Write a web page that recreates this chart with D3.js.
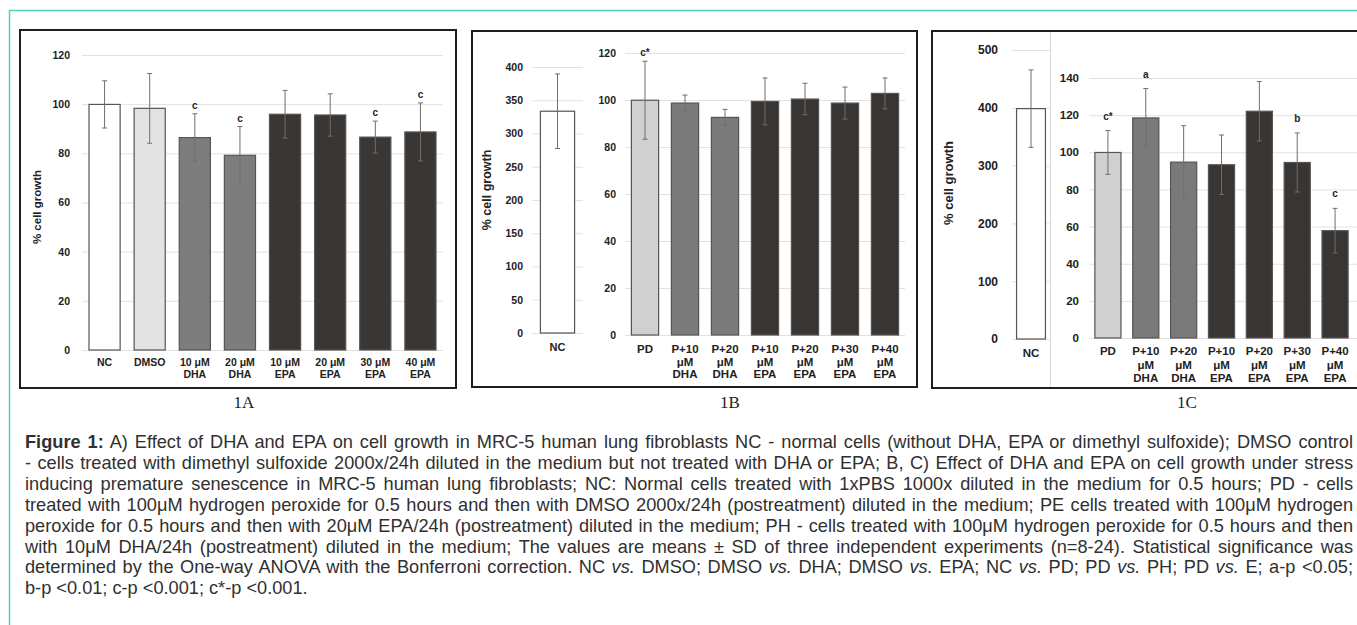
<!DOCTYPE html>
<html>
<head>
<meta charset="utf-8">
<script src="https://cdn.jsdelivr.net/npm/d3@7"></script>
<style>
  body { margin: 0; background: #fff; }
  svg { display: block; }
</style>
</head>
<body>
<script>
// --- data ---
var catsA = ["NC", "DMSO", "10 μM\nDHA", "20 μM\nDHA", "10 μM\nEPA", "20 μM\nEPA", "30 μM\nEPA", "40 μM\nEPA"];
var valuesA = [99.9, 98.3, 86.4, 79.2, 95.9, 95.6, 86.6, 88.7];
var sdA = [9.6, 14.2, 9.7, 11.7, 9.7, 8.6, 6.5, 11.8];
var sigA = ["", "", "c", "c", "", "", "c", "c"];
var groupA = ["nc", "ctrl", "dha", "dha", "epa", "epa", "epa", "epa"];
var ticksA = [0, 20, 40, 60, 80, 100, 120];

var catsNC = ["NC"];
var valueNcB = [333.5];
var sdNcB = [56];
var ticksNcB = [0, 50, 100, 150, 200, 250, 300, 350, 400];
var valueNcC = [398.6];
var sdNcC = [67];
var ticksNcC = [0, 100, 200, 300, 400, 500];

var catsP = ["PD", "P+10\nμM\nDHA", "P+20\nμM\nDHA", "P+10\nμM\nEPA", "P+20\nμM\nEPA", "P+30\nμM\nEPA", "P+40\nμM\nEPA"];
var groupP = ["ctrl", "dha", "dha", "epa", "epa", "epa", "epa"];
var valuesB = [99.9, 98.7, 92.6, 99.4, 100.4, 98.7, 102.8];
var sdB = [16.6, 3.4, 3.4, 10, 6.7, 6.8, 6.6];
var sigB = ["c*", "", "", "", "", "", ""];
var ticksB = [0, 20, 40, 60, 80, 100, 120];

var valuesC = [99.9, 118.5, 94.7, 93.3, 122.1, 94.5, 57.8];
var sdC = [11.8, 15.8, 19.6, 16, 16, 15.9, 12];
var sigC = ["c*", "a", "", "", "", "b", "c"];
var ticksC = [0, 20, 40, 60, 80, 100, 120, 140];

var captionLines = [
    [["Figure 1:", "b"], [" A) Effect of DHA and EPA on cell growth in MRC-5 human lung fibroblasts NC - normal cells (without DHA, EPA or dimethyl sulfoxide); DMSO control"]],
    [["- cells treated with dimethyl sulfoxide 2000x/24h diluted in the medium but not treated with DHA or EPA; B, C) Effect of DHA and EPA on cell growth under stress"]],
    [["inducing premature senescence in MRC-5 human lung fibroblasts; NC: Normal cells treated with 1xPBS 1000x diluted in the medium for 0.5 hours; PD - cells"]],
    [["treated with 100μM hydrogen peroxide for 0.5 hours and then with DMSO 2000x/24h (postreatment) diluted in the medium; PE cells treated with 100μM hydrogen"]],
    [["peroxide for 0.5 hours and then with 20μM EPA/24h (postreatment) diluted in the medium; PH - cells treated with 100μM hydrogen peroxide for 0.5 hours and then"]],
    [["with 10μM DHA/24h (postreatment) diluted in the medium; The values are means ± SD of three independent experiments (n=8-24). Statistical significance was"]],
    [["determined by the One-way ANOVA with the Bonferroni correction. NC "], ["vs.", "i"], [" DMSO; DMSO "], ["vs.", "i"], [" DHA; DMSO "], ["vs.", "i"], [" EPA; NC "], ["vs.", "i"], [" PD; PD "], ["vs.", "i"], [" PH; PD "], ["vs.", "i"], [" E; a-p <0.05;"]],
    [["b-p <0.01; c-p <0.001; c*-p <0.001."]]
];

var w = 1357;
var h = 625;
var sans = "Liberation Sans, Arial, sans-serif";

var svg = d3.select("body")
    .append("svg")
    .attr("width", w)
    .attr("height", h);

// teal page frame
svg.append("line").attr("x1", 9).attr("y1", 10.5).attr("x2", w).attr("y2", 10.5)
    .attr("stroke", "#4fd2c2").attr("stroke-width", 1.5);
svg.append("line").attr("x1", 9.5).attr("y1", 10).attr("x2", 9.5).attr("y2", h)
    .attr("stroke", "#4fd2c2").attr("stroke-width", 1.5);

var fills = {
    A: { nc: "#ffffff", ctrl: "#e3e3e3", dha: "#7d7d7d", epa: "#393634" },
    P: { nc: "#ffffff", ctrl: "#d0d0d0", dha: "#7a7a7a", epa: "#383533" }
};

var drawPanel = function (p) {
    var x = d3.scaleBand()
        .domain(p.cats)
        .range(p.xRange)
        .paddingInner(p.pad)
        .paddingOuter(p.pad / 2);
    var y = d3.scaleLinear().domain([0, p.max]).range(p.yRange);

    var g = svg.append("g");

    var axis = d3.axisLeft(y)
        .tickValues(p.ticks)
        .tickSize(-(p.gridEnd - p.xRange[0]))
        .tickPadding(p.tickPad);

    var ax = g.append("g")
        .attr("transform", "translate(" + p.xRange[0] + ",0)")
        .call(axis);
    ax.select(".domain").remove();
    ax.selectAll("line").attr("stroke", "#e2e2e2").attr("stroke-width", 1);
    ax.selectAll("text")
        .attr("font-family", sans)
        .attr("font-size", p.tickFont)
        .attr("font-weight", "bold")
        .attr("fill", "#222");

    var data = p.cats.map((c, i) => {
        return { cat: c, value: p.values[i], sd: p.sds[i], sig: p.sigs ? p.sigs[i] : "", group: p.groups[i] };
    });

    g.selectAll("rect.bar")
        .data(data)
        .enter()
        .append("rect")
        .attr("class", "bar")
        .attr("x", (d) => { return x(d.cat) })
        .attr("y", (d) => { return y(d.value) })
        .attr("width", x.bandwidth())
        .attr("height", (d) => { return y(0) - y(d.value) })
        .attr("fill", (d) => { return p.fills[d.group] })
        .attr("stroke", "#555")
        .attr("stroke-width", 1.2);

    var err = g.selectAll("g.err")
        .data(data)
        .enter()
        .append("g")
        .attr("class", "err")
        .attr("stroke", "#6f6f6f")
        .attr("stroke-width", 1);

    err.append("line")
        .attr("x1", (d) => { return x(d.cat) + x.bandwidth() / 2 })
        .attr("x2", (d) => { return x(d.cat) + x.bandwidth() / 2 })
        .attr("y1", (d) => { return y(d.value - d.sd) })
        .attr("y2", (d) => { return y(d.value + d.sd) });
    [-1, 1].forEach((s) => {
        err.append("line")
            .attr("x1", (d) => { return x(d.cat) + x.bandwidth() / 2 - 2.5 })
            .attr("x2", (d) => { return x(d.cat) + x.bandwidth() / 2 + 2.5 })
            .attr("y1", (d) => { return y(d.value + s * d.sd) })
            .attr("y2", (d) => { return y(d.value + s * d.sd) });
    });

    g.selectAll("text.sig")
        .data(data.filter((d) => { return d.sig }))
        .enter()
        .append("text")
        .attr("class", "sig")
        .attr("x", (d) => { return x(d.cat) + x.bandwidth() / 2 })
        .attr("y", (d) => { return y(d.value + d.sd) - p.sigGap })
        .attr("text-anchor", "middle")
        .attr("font-family", sans)
        .attr("font-size", 10)
        .attr("font-weight", "bold")
        .attr("fill", "#222")
        .text((d) => { return d.sig });

    var labels = g.selectAll("text.cat")
        .data(data)
        .enter()
        .append("text")
        .attr("class", "cat")
        .attr("text-anchor", "middle")
        .attr("font-family", sans)
        .attr("font-size", p.catFont)
        .attr("font-weight", "bold")
        .attr("fill", "#222");
    labels.each(function (d) {
        var t = d3.select(this);
        d.cat.split("\n").forEach((line, k) => {
            t.append("tspan")
                .attr("x", x(d.cat) + x.bandwidth() / 2)
                .attr("y", p.labelY + k * p.labelStep)
                .text(line);
        });
    });

    if (p.title) {
        svg.append("text")
            .attr("transform", "translate(" + p.title[0] + "," + p.title[1] + ") rotate(-90)")
            .attr("text-anchor", "middle")
            .attr("dy", "0.35em")
            .attr("font-family", sans)
            .attr("font-size", p.title[2])
            .attr("font-weight", "bold")
            .attr("fill", "#222")
            .text("% cell growth");
    }
};

// panel frames
svg.append("rect").attr("x", 20).attr("y", 30).attr("width", 436).attr("height", 358)
    .attr("fill", "none").attr("stroke", "#1e1e1e").attr("stroke-width", 2);
svg.append("rect").attr("x", 472).attr("y", 31).attr("width", 445).attr("height", 356)
    .attr("fill", "none").attr("stroke", "#1e1e1e").attr("stroke-width", 2);
svg.append("rect").attr("x", 932).attr("y", 31).attr("width", 460).attr("height", 357)
    .attr("fill", "none").attr("stroke", "#1e1e1e").attr("stroke-width", 2);
svg.append("line").attr("x1", 1050.5).attr("x2", 1050.5).attr("y1", 32).attr("y2", 387)
    .attr("stroke", "#d8d8d8").attr("stroke-width", 1);

// 1A
drawPanel({
    cats: catsA, values: valuesA, sds: sdA, sigs: sigA, groups: groupA, fills: fills.A,
    max: 120, ticks: ticksA, xRange: [82, 443], gridEnd: 443, yRange: [350, 55], pad: 0.31,
    tickPad: 12, tickFont: 10.5, catFont: 10.5, labelY: 366, labelStep: 11.5, sigGap: 5,
    title: [37, 207, 11.5]
});

// 1B
drawPanel({
    cats: catsNC, values: valueNcB, sds: sdNcB, groups: ["nc"], fills: fills.P,
    max: 400, ticks: ticksNcB, xRange: [532, 583], gridEnd: 583, yRange: [333, 67], pad: 0.33,
    tickPad: 9, tickFont: 10.5, catFont: 11, labelY: 351, labelStep: 12.5, sigGap: 6,
    title: [487, 190, 12.5]
});
drawPanel({
    cats: catsP, values: valuesB, sds: sdB, sigs: sigB, groups: groupP, fills: fills.P,
    max: 120, ticks: ticksB, xRange: [625, 905], gridEnd: 905, yRange: [335, 53], pad: 0.32,
    tickPad: 9, tickFont: 10.5, catFont: 11.5, labelY: 353, labelStep: 12.5, sigGap: 5
});

// 1C
drawPanel({
    cats: catsNC, values: valueNcC, sds: sdNcC, groups: ["nc"], fills: fills.P,
    max: 500, ticks: ticksNcC, xRange: [1012, 1050], gridEnd: 1050, yRange: [339, 50], pad: 0.24,
    tickPad: 14, tickFont: 12, catFont: 11.5, labelY: 357, labelStep: 13.5, sigGap: 6,
    title: [948, 183, 13]
});
drawPanel({
    cats: catsP, values: valuesC, sds: sdC, sigs: sigC, groups: groupP, fills: fills.P,
    max: 140, ticks: ticksC, xRange: [1089, 1354], gridEnd: 1357, yRange: [338, 78], pad: 0.31,
    tickPad: 10, tickFont: 11.5, catFont: 11.5, labelY: 355, labelStep: 13.5, sigGap: 11
});

// sub-figure names
[["1A", 244], ["1B", 730], ["1C", 1187]].forEach((s) => {
    svg.append("text")
        .attr("x", s[1])
        .attr("y", 408)
        .attr("text-anchor", "middle")
        .attr("font-family", "Liberation Serif, Times New Roman, serif")
        .attr("font-size", 17)
        .attr("fill", "#222")
        .text(s[0]);
});

// caption, justified line by line
var capLeft = 25;
var capWidth = 1328;
var cap = svg.append("g");
var rows = captionLines.map((segs, i) => {
    var t = cap.append("text")
        .attr("x", 0)
        .attr("y", 448 + i * 20.9)
        .attr("font-family", sans)
        .attr("font-size", 18.2)
        .attr("fill", "#303030");
    segs.forEach((s) => {
        t.append("tspan")
            .attr("font-weight", s[1] == "b" ? "bold" : null)
            .attr("font-style", s[1] == "i" ? "italic" : null)
            .text(s[0]);
    });
    var full = segs.map((s) => { return s[0] }).join("");
    return { node: t, width: t.node().getComputedTextLength(), spaces: (full.match(/ /g) || []).length };
});

var squeeze = 1;
rows.slice(0, rows.length - 1).forEach((r) => {
    squeeze = Math.min(squeeze, capWidth / r.width);
});
cap.attr("transform", "translate(" + capLeft + ",0) scale(" + squeeze + ",1)");
rows.slice(0, rows.length - 1).forEach((r) => {
    var extra = (capWidth / squeeze - r.width) / r.spaces;
    r.node.attr("word-spacing", extra);
});
</script>
</body>
</html>
